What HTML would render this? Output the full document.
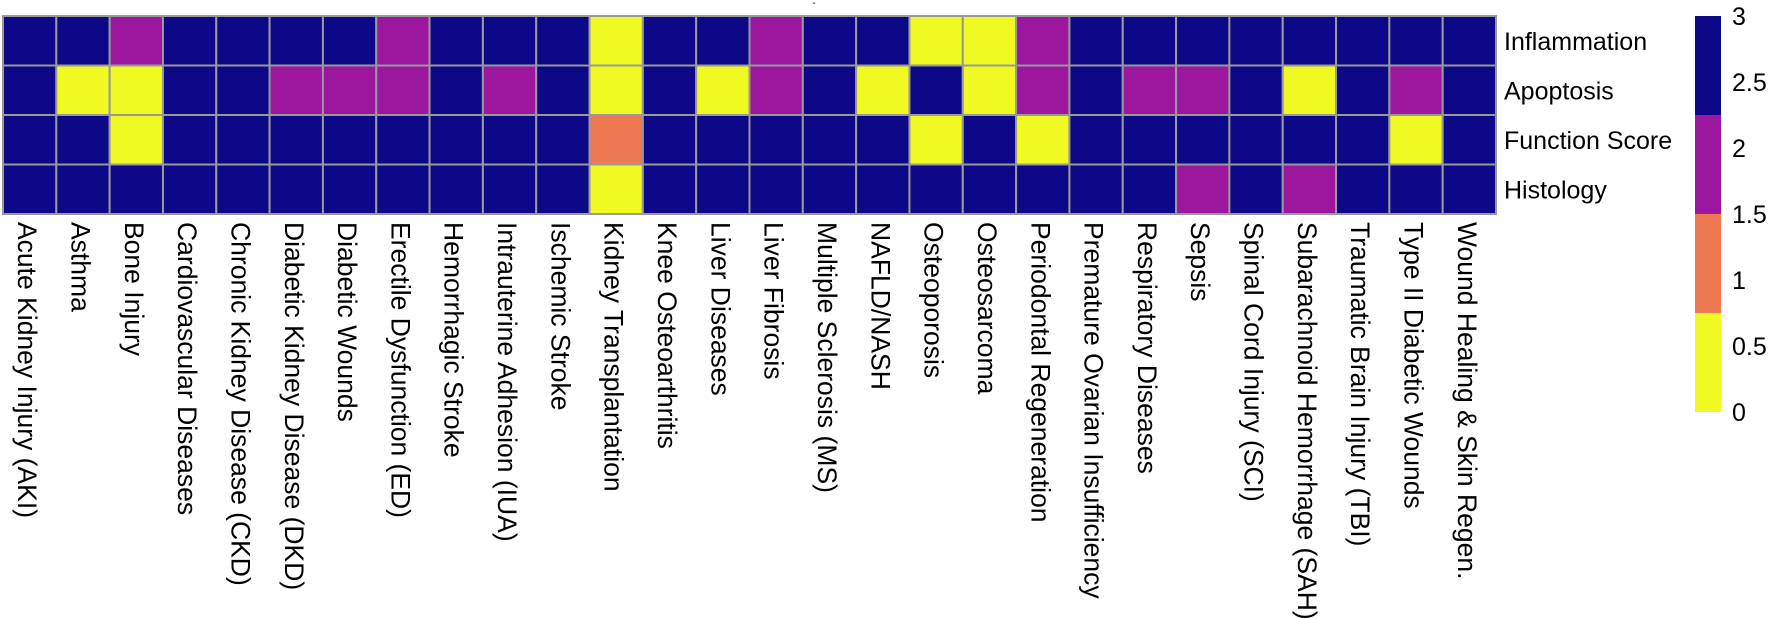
<!DOCTYPE html>
<html><head><meta charset="utf-8"><style>
body{margin:0;background:#fff;}
svg{display:block;font-family:"Liberation Sans",Arial,sans-serif;}
</style></head><body>
<svg id="chart" width="1772" height="619" viewBox="0 0 1772 619" xmlns="http://www.w3.org/2000/svg">
<text x="814" y="6" font-size="10" text-anchor="middle">-</text>
</svg>
<script>
const categories = ["Acute Kidney Injury (AKI)","Asthma","Bone Injury","Cardiovascular Diseases","Chronic Kidney Disease (CKD)","Diabetic Kidney Disease (DKD)","Diabetic Wounds","Erectile Dysfunction (ED)","Hemorrhagic Stroke","Intrauterine Adhesion (IUA)","Ischemic Stroke","Kidney Transplantation","Knee Osteoarthritis","Liver Diseases","Liver Fibrosis","Multiple Sclerosis (MS)","NAFLD/NASH","Osteoporosis","Osteosarcoma","Periodontal Regeneration","Premature Ovarian Insufficiency","Respiratory Diseases","Sepsis","Spinal Cord Injury (SCI)","Subarachnoid Hemorrhage (SAH)","Traumatic Brain Injury (TBI)","Type II Diabetic Wounds","Wound Healing & Skin Regen."];
const rowLabels = ["Inflammation","Apoptosis","Function Score","Histology"];
const inflammation = [3,3,2,3,3,3,3,2,3,3,3,0,3,3,2,3,3,0,0,2,3,3,3,3,3,3,3,3];
const apoptosis    = [3,0,0,3,3,2,2,2,3,2,3,0,3,0,2,3,0,3,0,2,3,2,2,3,0,3,2,3];
const functionScore= [3,3,0,3,3,3,3,3,3,3,3,1,3,3,3,3,3,0,3,0,3,3,3,3,3,3,0,3];
const histology    = [3,3,3,3,3,3,3,3,3,3,3,0,3,3,3,3,3,3,3,3,3,3,2,3,2,3,3,3];
const colorTicks = ["0","0.5","1","1.5","2","2.5","3"];
const colorTickValues = [0,0.5,1,1.5,2,2.5,3];

const NS="http://www.w3.org/2000/svg";
const svg=document.getElementById('chart');
const series=[inflammation,apoptosis,functionScore,histology];
const X0=3,X1=1496,Y0=16,Y1=214;
const cw=(X1-X0)/categories.length, rh=(Y1-Y0)/rowLabels.length;
const xPos=i=>X0+i*cw, yPos=r=>Y0+r*rh;
function color(v){ if(v<0.75) return '#f0f921'; if(v<1.5) return '#ed7953'; if(v<2.25) return '#9c179e'; return '#0d0887'; }
function mk(tag,attrs){const e=document.createElementNS(NS,tag);for(const k in attrs)e.setAttribute(k,attrs[k]);svg.appendChild(e);return e;}

series.forEach((arr,r)=>{
  arr.forEach((v,i)=>{
    const c=mk('rect',{x:xPos(i),y:yPos(r),width:cw,height:rh,fill:color(v),stroke:'#999',"stroke-width":2});
    
    
  });
});
rowLabels.forEach((l,r)=>{
  const t=mk('text',{x:1504,y:yPos(r)+rh/2+9,"font-size":25,fill:'#000'});
  t.textContent=l;
  
  
});
categories.forEach((l,i)=>{
  const cx=xPos(i)+cw/2-11.5, y=222;
  const t=mk('text',{x:0,y:0,"font-size":26.5,fill:'#000',transform:`translate(${cx},${y}) rotate(90)`});
  t.textContent=l;
  
  
});
// colorbar
const CB0=16,CB1=412,cbx=1695,cbw=26;
const cy=v=>CB1-(v/3)*(CB1-CB0);
[[0,0.75,0],[0.75,1.5,1],[1.5,2.25,2],[2.25,3,3]].forEach(s=>{
  const r=mk('rect',{x:cbx,y:cy(s[1]),width:cbw,height:cy(s[0])-cy(s[1]),fill:color(s[2])});
  
  
});
colorTicks.forEach((l,i)=>{
  const t=mk('text',{x:1732,y:cy(colorTickValues[i])+9,"font-size":25,fill:'#000'});
  t.textContent=l;
  
  
});
</script>
</body></html>
